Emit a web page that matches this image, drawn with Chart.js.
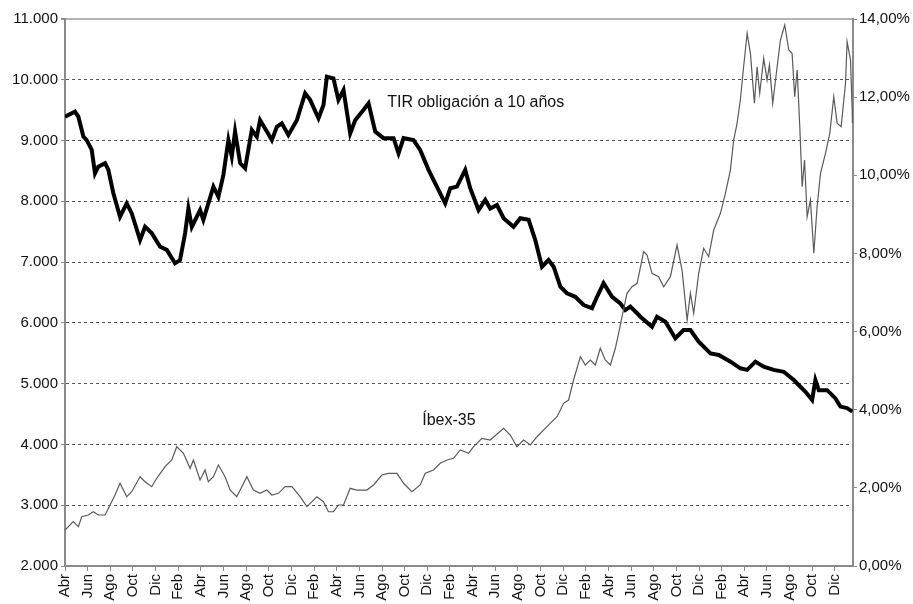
<!DOCTYPE html>
<html>
<head>
<meta charset="utf-8">
<script src="https://cdn.jsdelivr.net/npm/chart.js@4/dist/chart.umd.min.js"></script>
<style>
  html, body { margin: 0; padding: 0; background: #fff; }
  #wrap { width: 913px; height: 604px; position: relative; }
</style>
</head>
<body>
<div id="wrap"><canvas id="main-chart"></canvas></div>
<script>
// Etiquetas del eje X (cada dos meses, abril 1993 - diciembre 1998)
const monthLabels = [
  'Abr', 'Jun', 'Ago', 'Oct', 'Dic',
  'Feb', 'Abr', 'Jun', 'Ago', 'Oct', 'Dic',
  'Feb', 'Abr', 'Jun', 'Ago', 'Oct', 'Dic',
  'Feb', 'Abr', 'Jun', 'Ago', 'Oct', 'Dic',
  'Feb', 'Abr', 'Jun', 'Ago', 'Oct', 'Dic',
  'Feb', 'Abr', 'Jun', 'Ago', 'Oct', 'Dic'
];

// TIR obligación a 10 años (%), meses desde abril 1993
const tirMonths = [
  0, 0.88, 1.18, 1.62, 1.92, 2.36, 2.65, 2.94, 3.54, 3.83, 4.27, 4.86, 5.45, 5.89, 6.63, 7.07,
  7.66, 8.40, 8.99, 9.72, 10.16, 10.61, 10.90, 11.20, 11.93, 12.22, 13.11, 13.55, 13.99, 14.43,
  14.73, 15.02, 15.47, 15.91, 16.50, 16.94, 17.23, 17.83, 18.27, 18.71, 19.15, 19.73, 20.48,
  21.21, 21.65, 22.39, 22.83, 23.13, 23.71, 24.15, 24.60, 25.19, 25.63, 26.36, 26.81, 27.40,
  28.13, 29.02, 29.46, 29.90, 30.78, 31.37, 32.11, 32.70, 33.58, 34.03, 34.62, 35.35, 35.79,
  36.53, 37.12, 37.56, 38.15, 38.74, 39.62, 40.21, 40.95, 41.54, 42.13, 42.71, 43.16, 43.75,
  44.34, 45.07, 45.81, 46.55, 46.99, 47.57, 48.32, 49.05, 49.49, 49.93, 50.53, 50.82, 51.85,
  52.29, 53.03, 53.91, 54.64, 55.24, 55.97, 57.01, 57.74, 58.78, 59.66, 60.25, 60.98, 61.71,
  62.60, 63.48, 64.37, 65.40, 65.99, 66.28, 66.58, 67.32, 68.05, 68.49, 69.08, 69.55
];
const tirRates = [
  11.50, 11.63, 11.50, 10.99, 10.90, 10.65, 10.05, 10.22, 10.31, 10.14, 9.54, 8.94, 9.28, 9.03, 8.34, 8.68,
  8.52, 8.17, 8.09, 7.75, 7.83, 8.52, 9.15, 8.68, 9.11, 8.86, 9.71, 9.45, 10.01, 10.90,
  10.48, 11.12, 10.31, 10.18, 11.16, 10.99, 11.41, 11.12, 10.90, 11.24, 11.33, 11.03, 11.41,
  12.10, 11.93, 11.46, 11.80, 12.52, 12.48, 11.93, 12.18, 11.07, 11.41, 11.67, 11.84, 11.12,
  10.95, 10.95, 10.56, 10.95, 10.90, 10.65, 10.14, 9.79, 9.28, 9.67, 9.71, 10.14, 9.67,
  9.11, 9.37, 9.15, 9.24, 8.90, 8.68, 8.90, 8.86, 8.34, 7.66, 7.83, 7.66, 7.15,
  6.98, 6.89, 6.68, 6.60, 6.89, 7.24, 6.89, 6.72, 6.55, 6.64, 6.47, 6.38, 6.12,
  6.38, 6.25, 5.83, 6.04, 6.04, 5.74, 5.44, 5.40, 5.23, 5.06, 5.02, 5.23, 5.10,
  5.02, 4.97, 4.76, 4.46, 4.25, 4.76, 4.50, 4.50, 4.29, 4.08, 4.04, 3.95
];

// Íbex-35 (puntos), meses desde abril 1993
const ibexMonths = [
  0, 0.73, 1.18, 1.48, 2.06, 2.50, 2.94, 3.54, 3.98, 4.42, 4.86, 5.45, 5.89, 6.63, 7.07, 7.66,
  8.10, 8.84, 9.43, 9.87, 10.46, 11.05, 11.34, 11.93, 12.37, 12.66, 13.11, 13.55, 14.14, 14.58,
  15.17, 15.62, 16.06, 16.64, 17.23, 17.83, 18.27, 18.85, 19.44, 20.04, 20.77, 21.36, 22.25,
  22.83, 23.27, 23.71, 24.15, 24.60, 25.19, 25.78, 26.66, 27.25, 27.99, 28.57, 29.32, 29.90,
  30.64, 31.37, 31.82, 32.55, 33.14, 33.73, 34.32, 34.91, 35.64, 36.09, 36.83, 37.56, 38.74,
  39.33, 39.92, 40.50, 41.10, 41.69, 42.57, 43.46, 44.04, 44.48, 44.92, 45.52, 45.96, 46.40,
  46.84, 47.28, 47.72, 48.17, 48.61, 48.90, 49.20, 49.64, 50.08, 50.53, 51.11, 51.41, 51.85,
  52.43, 52.88, 53.47, 54.06, 54.50, 54.95, 55.24, 55.53, 55.97, 56.41, 56.85, 57.30, 57.89,
  58.33, 58.77, 59.06, 59.36, 59.65, 59.94, 60.25, 60.54, 60.89, 61.13, 61.36, 61.71, 62.01,
  62.22, 62.51, 62.90, 63.19, 63.57, 63.93, 64.22, 64.45, 64.67, 64.90, 65.11, 65.32, 65.55,
  65.84, 66.14, 66.43, 66.73, 67.17, 67.55, 67.90, 68.20, 68.55, 68.94, 69.08, 69.38, 69.53, 69.55
];
const ibexPoints = [
  2592, 2729, 2647, 2811, 2839, 2893, 2839, 2839, 3004, 3168, 3361, 3140, 3222, 3469, 3387, 3305,
  3443, 3634, 3744, 3963, 3854, 3607, 3744, 3415, 3580, 3387, 3469, 3662, 3469, 3250,
  3140, 3305, 3469, 3250, 3196, 3250, 3168, 3196, 3305, 3305, 3140, 2976, 3140,
  3058, 2893, 2893, 3004, 3004, 3278, 3250, 3250, 3333, 3497, 3525, 3525, 3361,
  3222, 3333, 3525, 3580, 3690, 3744, 3772, 3909, 3854, 3963, 4101, 4073, 4266,
  4155, 3963, 4073, 3991, 4127, 4292, 4456, 4677, 4731, 5060, 5444, 5307, 5389,
  5307, 5582, 5389, 5307, 5582, 5829, 6102, 6487, 6595, 6651, 7171, 7117, 6816,
  6760, 6595, 6760, 7281, 6870, 6047, 6487, 6158, 6816, 7227, 7089, 7528, 7803,
  8132, 8515, 9009, 9284, 9667, 10215, 10765, 10435, 9613, 10215, 9777, 10353, 9996,
  10243, 9613, 10215, 10654, 10901, 10490, 10435, 9721, 10161, 9228, 8241, 8680, 7747,
  8022, 7145, 7912, 8461, 8790, 9119, 9721, 9284, 9228, 9942, 10626, 10325, 9503, 9289
];

// Rótulos dentro del gráfico (mes, valor del eje izquierdo)
const seriesNotes = [
  { text: 'TIR obligación a 10 años', month: 28.46, value: 9618 },
  { text: 'Íbex-35', month: 31.55, value: 4390 }
];

const FONT = { family: '"Liberation Sans", Arial, sans-serif', size: 15 };
const AXIS_GREY = '#8a8a8a';

function miles(v) {
  return String(v).replace(/\B(?=(\d{3})+(?!\d))/g, '.');
}

// Plugin sencillo para escribir los rótulos de cada serie
const notesPlugin = {
  id: 'seriesNotes',
  afterDatasetsDraw(chart) {
    const { ctx, scales } = chart;
    ctx.save();
    ctx.font = '16px "Liberation Sans", Arial, sans-serif';
    ctx.fillStyle = '#111';
    ctx.textAlign = 'left';
    ctx.textBaseline = 'middle';
    seriesNotes.forEach(n => {
      ctx.fillText(n.text, scales.x.getPixelForValue(n.month), scales.y.getPixelForValue(n.value));
    });
    ctx.restore();
  }
};

const canvas = document.getElementById('main-chart');
new Chart(canvas.getContext('2d'), {
  type: 'line',
  data: {
    datasets: [
      {
        label: 'Íbex-35',
        data: ibexMonths.map((m, i) => ({ x: m, y: ibexPoints[i] })),
        yAxisID: 'y',
        borderColor: '#5a5a5a',
        borderWidth: 1.2,
        pointRadius: 0,
        tension: 0,
        order: 0
      },
      {
        label: 'TIR obligación a 10 años',
        data: tirMonths.map((m, i) => ({ x: m, y: tirRates[i] })),
        yAxisID: 'y2',
        borderColor: '#000',
        borderWidth: 4,
        pointRadius: 0,
        tension: 0,
        order: 1
      }
    ]
  },
  options: {
    responsive: true,
    maintainAspectRatio: false,
    animation: false,
    layout: { padding: { top: 19, left: 0, right: 0, bottom: 0 } },
    plugins: { legend: { display: false }, tooltip: { enabled: false } },
    scales: {
      x: {
        type: 'linear',
        min: 0,
        max: 69.6,
        afterBuildTicks: axis => { axis.ticks = monthLabels.map((_, i) => ({ value: i * 2 })); },
        afterFit: s => { s.height = 38; },
        ticks: {
          autoSkip: false,
          maxRotation: 90,
          minRotation: 90,
          padding: 3,
          color: '#111',
          font: FONT,
          callback: v => monthLabels[Math.round(v / 2)]
        },
        grid: { drawOnChartArea: false, tickLength: 5, tickColor: AXIS_GREY, tickWidth: 1 },
        border: { color: AXIS_GREY, width: 2 }
      },
      y: {
        position: 'left',
        min: 2000,
        max: 11000,
        afterFit: s => { s.width = 65; },
        ticks: { stepSize: 1000, padding: 3, color: '#111', font: FONT, callback: v => miles(v) },
        grid: {
          color: c => c.tick.value === 11000 ? '#b4b4b4' : (c.tick.value === 2000 ? 'rgba(0,0,0,0)' : '#555'),
          lineWidth: c => c.tick.value === 11000 ? 2 : 1,
          tickLength: 4,
          tickColor: AXIS_GREY
        },
        border: { color: AXIS_GREY, width: 2, dash: c => (c.tick && c.tick.value === 11000) ? [] : [3, 3] }
      },
      y2: {
        position: 'right',
        min: 0,
        max: 14,
        afterFit: s => { s.width = 60; },
        ticks: {
          stepSize: 2, padding: 2, color: '#111', font: FONT,
          callback: v => v.toFixed(2).replace('.', ',') + '%'
        },
        grid: { drawOnChartArea: false, tickLength: 4, tickColor: AXIS_GREY },
        border: { color: AXIS_GREY, width: 2 }
      }
    }
  },
  plugins: [notesPlugin]
});
</script>
</body>
</html>
